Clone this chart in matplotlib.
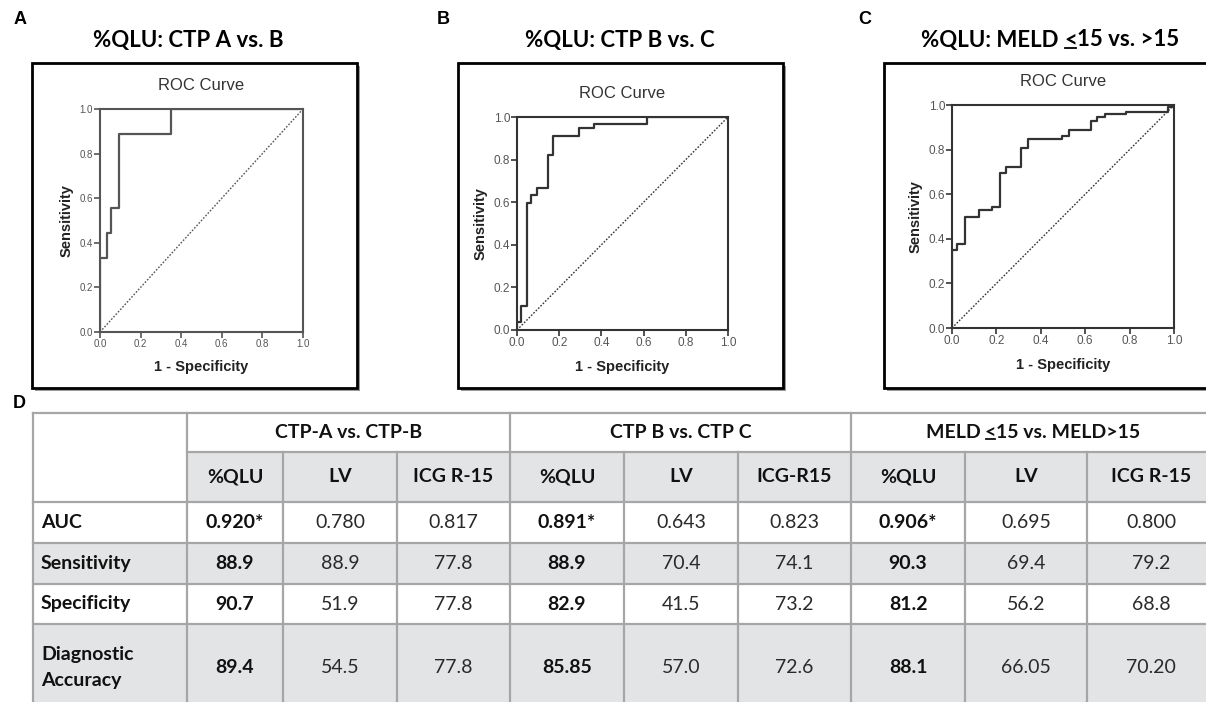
import numpy as np
import matplotlib
matplotlib.use("Agg")
import matplotlib.pyplot as plt
from matplotlib.patches import Rectangle

# --------------------
# ROC operating points (1 - specificity, sensitivity)
# --------------------
a_fpr = [0.0, 0.0, 0.035, 0.055, 0.093, 0.35, 1.0]
a_tpr = [0.0, 0.333, 0.444, 0.556, 0.889, 1.0, 1.0]

b_fpr = [0.0, 0.0, 0.02, 0.047, 0.068, 0.094, 0.146, 0.17, 0.293, 0.365, 0.614, 1.0]
b_tpr = [0.0, 0.039, 0.112, 0.598, 0.633, 0.669, 0.82, 0.91, 0.948, 0.966, 1.0, 1.0]

c_fpr = [0.0, 0.0, 0.024, 0.06, 0.12, 0.18, 0.215, 0.245, 0.31, 0.343, 0.496,
         0.528, 0.624, 0.651, 0.689, 0.782, 0.971, 1.0]
c_tpr = [0.0, 0.351, 0.376, 0.5, 0.53, 0.542, 0.697, 0.724, 0.806, 0.846, 0.861,
         0.888, 0.928, 0.948, 0.96, 0.97, 0.99, 1.0]

ticks = [0.0, 0.2, 0.4, 0.6, 0.8, 1.0]

# --------------------
# Table values
# --------------------
groups = ["CTP-A vs. CTP-B", "CTP B vs. CTP C", ("MELD ", "<", "15 vs. MELD>15")]
sub_headers = ["%QLU", "LV", "ICG R-15", "%QLU", "LV", "ICG-R15", "%QLU", "LV", "ICG R-15"]
row_labels = ["AUC", "Sensitivity", "Specificity", "Diagnostic\nAccuracy"]
auc = ["0.920*", "0.780", "0.817", "0.891*", "0.643", "0.823", "0.906*", "0.695", "0.800"]
sensitivity = ["88.9", "88.9", "77.8", "88.9", "70.4", "74.1", "90.3", "69.4", "79.2"]
specificity = ["90.7", "51.9", "77.8", "82.9", "41.5", "73.2", "81.2", "56.2", "68.8"]
accuracy = ["89.4", "54.5", "77.8", "85.85", "57.0", "72.6", "88.1", "66.05", "70.20"]
rows = [auc, sensitivity, specificity, accuracy]

W, H = 1206, 702
fig = plt.figure(figsize=(W / 100, H / 100), dpi=100)

# overlay axes in pixel coords for boxes, titles and table
ov = fig.add_axes([0, 0, 1, 1], zorder=0)
ov.set_xlim(0, W)
ov.set_ylim(H, 0)
ov.axis("off")

title_font = ["Lato", "DejaVu Sans"]
arial = ["Liberation Sans", "DejaVu Sans"]


def underlined_text(ax, x, y, parts, size, weight, family, color="black"):
    # centred text where the middle part is underlined
    fig.canvas.draw()
    r = fig.canvas.get_renderer()
    texts = []
    for p in parts:
        t = ax.text(0, y, p, fontsize=size, fontweight=weight, family=family,
                    ha="left", va="center", color=color, zorder=3)
        texts.append(t)
    widths = [t.get_window_extent(r).width for t in texts]
    x0 = x - sum(widths) / 2
    for t, w in zip(texts, widths):
        t.set_x(x0)
        x0 += w
    # underline below the middle part
    mid_x = x - sum(widths) / 2 + widths[0]
    bb = texts[1].get_window_extent(r)
    ax.plot([mid_x + 1, mid_x + widths[1] - 1], [y + bb.height * 0.38] * 2,
            color=color, lw=1.3, zorder=3)


def panel(letter, lx, title, tx, box, axpos, fpr, tpr, tick_size, lab_size, col):
    ov.text(lx, 20, letter, fontsize=13, fontweight="bold", family=arial,
            ha="center", va="center")
    if isinstance(title, tuple):
        underlined_text(ov, tx, 40, title, 16, "bold", title_font)
    else:
        ov.text(tx, 40, title, fontsize=16, fontweight="bold", family=title_font,
                ha="center", va="center")

    bx0, by0, bx1, by1 = box
    ov.add_patch(Rectangle((bx0 + 3, by0 + 3), bx1 - bx0, by1 - by0,
                           facecolor="#9a9a9a", edgecolor="none", zorder=1))
    ov.add_patch(Rectangle((bx0, by0), bx1 - bx0, by1 - by0,
                           facecolor="white", edgecolor="black", lw=2, zorder=2))

    x0, y0, x1, y1 = axpos
    ax = fig.add_axes([x0 / W, 1 - y1 / H, (x1 - x0) / W, (y1 - y0) / H], zorder=3)
    ax.plot([0, 1], [0, 1], color=col, lw=1.0, ls=(0, (1.2, 1.2)))
    ax.plot(fpr, tpr, color=col, lw=1.6, drawstyle="steps-post")
    ax.set_xlim(0, 1)
    ax.set_ylim(0, 1)
    ax.set_xticks(ticks)
    ax.set_yticks(ticks)
    ax.set_xticklabels([f"{t:.1f}" for t in ticks])
    ax.set_yticklabels([f"{t:.1f}" for t in ticks])
    for s in ax.spines.values():
        s.set_color(col)
        s.set_linewidth(1.5)
    ax.tick_params(direction="out", length=4, width=1.2, color=col,
                   labelsize=tick_size, labelcolor="#555555", pad=1)
    for lab in ax.get_xticklabels() + ax.get_yticklabels():
        lab.set_family(arial)
    ax.set_title("ROC Curve", fontsize=12, family=arial, color="#333333", pad=14)
    ax.set_xlabel("1 - Specificity", fontsize=lab_size, fontweight="bold",
                  family=arial, color="#222222", labelpad=8)
    ax.set_ylabel("Sensitivity", fontsize=lab_size, fontweight="bold",
                  family=arial, color="#222222", labelpad=4)
    return ax


panel("A", 20, "%QLU: CTP A vs. B", 188, (32, 63, 357, 388),
      (100, 109, 303, 332), a_fpr, a_tpr, 7, 10.5, "#555555")
panel("B", 443, "%QLU: CTP B vs. C", 620, (458, 63, 783, 388),
      (517, 117, 728, 330), b_fpr, b_tpr, 8.5, 10.5, "#333333")
panel("C", 865, ("%QLU: MELD ", "<", "15 vs. >15"), 1050, (884, 63, 1230, 388),
      (952, 105, 1174, 328), c_fpr, c_tpr, 8.5, 10.5, "#333333")

# --------------------
# Table D
# --------------------
ov.text(19, 403, "D", fontsize=13, fontweight="bold", family=arial,
        ha="center", va="center")

col_edges = [33, 187, 283, 397, 510, 624, 738, 851, 965, 1087, 1215]
row_edges = [413, 452, 502, 543, 584, 624, 711]
grey = "#e3e4e6"
line_col = "#a6a6a6"
tfont = ["Lato", "DejaVu Sans"]
tsize = 14

# cell fills
for ri in range(len(row_edges) - 1):
    y0, y1 = row_edges[ri], row_edges[ri + 1]
    for ci in range(len(col_edges) - 1):
        x0, x1 = col_edges[ci], col_edges[ci + 1]
        fill = "white"
        if ri == 1 and ci > 0:
            fill = grey
        if ri in (3, 5):
            fill = grey
        ov.add_patch(Rectangle((x0, y0), x1 - x0, y1 - y0, facecolor=fill,
                               edgecolor="none", zorder=1))

# grid lines
for ri, y in enumerate(row_edges):
    xs = col_edges[0] if ri != 1 else col_edges[1]
    ov.plot([xs, col_edges[-1]], [y, y], color=line_col, lw=1.6, zorder=2)
for ci, x in enumerate(col_edges):
    if ci in (0, 1, 4, 7, 10):
        ov.plot([x, x], [row_edges[0], row_edges[-1]], color=line_col, lw=1.6, zorder=2)
    else:
        ov.plot([x, x], [row_edges[1], row_edges[-1]], color=line_col, lw=1.6, zorder=2)

# group headers
hy = (row_edges[0] + row_edges[1]) / 2
for gi, g in enumerate(groups):
    gx = (col_edges[1 + 3 * gi] + col_edges[4 + 3 * gi]) / 2
    if isinstance(g, tuple):
        underlined_text(ov, gx, hy, g, tsize, "bold", tfont, color="#111111")
    else:
        ov.text(gx, hy, g, fontsize=tsize, fontweight="bold", family=tfont,
                ha="center", va="center", color="#111111", zorder=3)

# sub headers
sy = (row_edges[1] + row_edges[2]) / 2
for ci, s in enumerate(sub_headers):
    cx = (col_edges[ci + 1] + col_edges[ci + 2]) / 2
    ov.text(cx, sy, s, fontsize=tsize, fontweight="bold", family=tfont,
            ha="center", va="center", color="#111111", zorder=3)

# body
for ri, (lab, vals) in enumerate(zip(row_labels, rows)):
    y0, y1 = row_edges[ri + 2], row_edges[ri + 3]
    cy = (y0 + y1) / 2
    ov.text(41, cy, lab, fontsize=tsize, fontweight="bold", family=tfont,
            ha="left", va="center", color="#111111", linespacing=1.6, zorder=3)
    for ci, v in enumerate(vals):
        cx = (col_edges[ci + 1] + col_edges[ci + 2]) / 2
        bold = ci % 3 == 0
        ov.text(cx, cy, v, fontsize=tsize, family=tfont,
                fontweight="bold" if bold else "normal",
                ha="center", va="center", color="#111111" if bold else "#2a2a2a",
                zorder=3)

fig.savefig("out.png", dpi=100)
